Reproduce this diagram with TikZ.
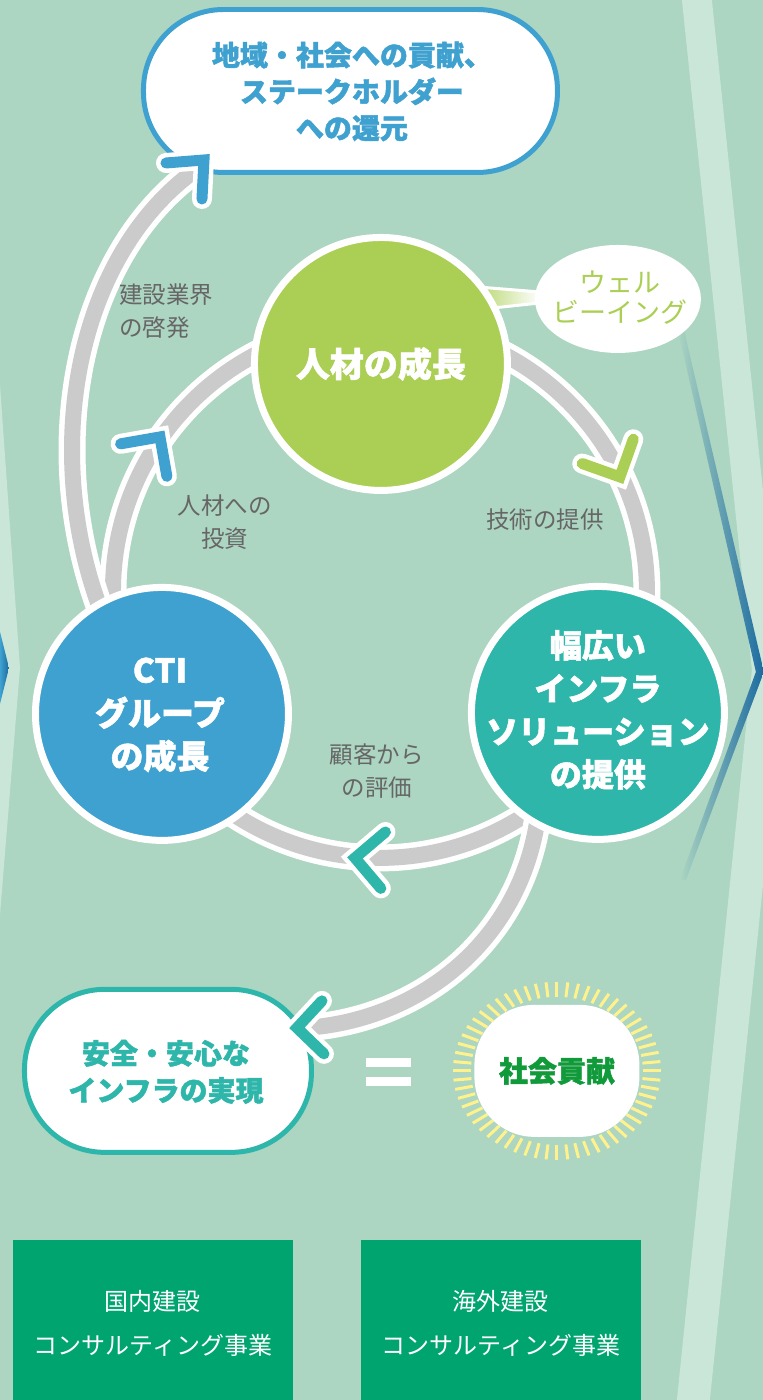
\documentclass[tikz,border=0pt]{standalone}
\usepackage{fontspec}
\newfontfamily\jp{Noto Sans CJK JP}[BoldFeatures={FakeBold=1.6}]
\usetikzlibrary{shapes.geometric,calc}
\definecolor{bg}{HTML}{ACD5C2}
\definecolor{band}{HTML}{C9E6D9}
\definecolor{ctiblue}{HTML}{3FA1CF}
\definecolor{hrgreen}{HTML}{AACF54}
\definecolor{teal}{HTML}{2EB6AA}
\definecolor{ringgray}{HTML}{CBCBCB}
\definecolor{labelgray}{HTML}{666666}
\definecolor{boxgreen}{HTML}{00A46F}
\definecolor{suntxt}{HTML}{109A3A}
\definecolor{ray}{HTML}{FFF28C}
\definecolor{deepblue}{HTML}{1B6AA0}
\pgfdeclarelayer{back}
\pgfdeclarelayer{deco}
\pgfdeclarelayer{front}
\pgfsetlayers{deco,back,main,front}
\newcommand\mychev[4]{\draw[chevw] #1--#2--#3; \draw[chevc,#4] #1--#2--#3;}
\begin{document}
\begin{tikzpicture}[x=1pt,y=-1pt,
 wband/.style={white, line width=27},
 gband/.style={draw=ringgray, line width=16},
 bigcirc/.style={circle, draw=white, line width=7, minimum size=253, inner sep=0},
 chevw/.style={white, line width=20, line cap=round, line join=miter},
 chevc/.style={line width=11, line cap=round, line join=miter},
 lbl/.style={text=labelgray, font=\jp\fontsize{23.5}{33}\selectfont, align=center, inner sep=0},
 bigtxt/.style={text=white, font=\jp\bfseries\fontsize{33}{43}\selectfont, align=center, inner sep=0},
 gboxtxt/.style={text=white, font=\jp\fontsize{24}{44}\selectfont, align=center, inner sep=0},
 gbox/.style={rectangle, fill=boxgreen, minimum width=280, minimum height=160, anchor=north west, inner sep=0}
]
\begin{pgfonlayer}{deco}
\useasboundingbox (0,0) rectangle (763,1400);
\fill[bg] (0,0) rectangle (763,1400);
% decorative bands
\fill[band] (682,0) -- (712,0) -- (763,490) -- (763,886) -- (710,1400) -- (677,1400) -- (752,670) -- cycle;
\shade[left color=bg, right color=deepblue] (678,330) -- (684,330) -- (764,672) -- (756,672) -- cycle;
\shade[left color=bg, right color=deepblue] (756,672) -- (764,672) -- (686,880) -- (680,880) -- cycle;
\fill[band] (0,385) -- (20,668) -- (0,915) -- cycle;
\shade[left color=ctiblue, right color=deepblue] (0,632) -- (9,668) -- (0,704) -- cycle;
\end{pgfonlayer}

% nodes
\coordinate (ringc) at (380,591);
\node[bigcirc, fill=hrgreen] (hr) at (381,364) {};
\node[bigcirc, fill=ctiblue] (cti) at (162,714) {};
\node[bigcirc, fill=teal] (tc) at (598,713) {};
\node[rectangle, rounded corners=80, draw=ctiblue, line width=5, fill=white, minimum width=414, minimum height=163, inner sep=0] (top) at (350.5,91) {};
\node[rectangle, rounded corners=80, draw=teal, line width=5, fill=white, minimum width=287, minimum height=163, inner sep=0] (safe) at (168,1071) {};
\node[ellipse, fill=white, minimum width=166, minimum height=108, inner sep=0] (wb) at (618,299) {};
\node[rectangle, rounded corners=60, fill=white, minimum width=165, minimum height=132, inner sep=0] (sun) at (557,1071) {};
\node[gbox] (dom) at (13,1240) {};
\node[gbox] (ovs) at (361,1240) {};

% connectors behind the nodes
\coordinate (a2) at (197,169);
\coordinate (b2) at (306,1028);
\begin{pgfonlayer}{back}
\draw[wband] (ringc) circle[radius=267];
\draw[gband] (ringc) circle[radius=267];
\draw[wband, shorten <=-20pt] (cti.120) .. controls (40,460) and (72,258) .. (a2);
\draw[gband, shorten <=-20pt] (cti.120) .. controls (40,460) and (72,258) .. (a2);
\draw[wband, shorten <=-20pt] (tc.242) .. controls (525,940) and (420,1020) .. (b2);
\draw[gband, shorten <=-20pt] (tc.242) .. controls (525,940) and (420,1020) .. (b2);
% well-being link
\shade[left color=hrgreen, right color=white] (465,286) -- (540,292) -- (540,303) -- (465,311) -- cycle;
\draw[white, line width=3] (465,286) -- (540,292);
\draw[white, line width=3] (465,311) -- (540,303);
% sun rays
\foreach \a in {0,6,...,354}
  \draw[ray, line width=3] ($(sun.center)+({86*cos(\a)},{74*sin(\a)})$) -- ($(sun.center)+({104*cos(\a)},{89*sin(\a)})$);
\end{pgfonlayer}

% chevrons
\begin{pgfonlayer}{front}
\mychev{(120.6,443.9)}{(160,437)}{(166.9,476.4)}{ctiblue}
\mychev{(582.3,463.6)}{(620,477)}{(633.4,439.3)}{hrgreen}
\mychev{(385.5,832.1)}{(355,858)}{(380.9,888.5)}{teal}
\mychev{(166,163)}{(204,160)}{(202,199)}{ctiblue}
\mychev{(322,1001)}{(297,1028)}{(324,1054)}{teal}
\end{pgfonlayer}

% equal sign
\fill[white] (366,1058) rectangle (411,1067);
\fill[white] (366,1077) rectangle (411,1086);

% texts
\node[text=ctiblue, font=\jp\bfseries\fontsize{28}{36.5}\selectfont, align=center, inner sep=0] (toptxt) at (352,91.5) {地域・社会への貢献、\\ステークホルダー\\への還元};
\node[bigtxt, font=\jp\bfseries\fontsize{34}{43}\selectfont] (hrtxt) at (hr) {人材の成長};
\node[bigtxt] (ctitxt) at (160,715) {CTI\\グループ\\の成長};
\node[bigtxt, font=\jp\bfseries\fontsize{32}{43}\selectfont] (tctxt) at (598,710) {幅広い\\インフラ\\ソリューション\\の提供};
\node[text=hrgreen, font=\jp\fontsize{27}{30}\selectfont, align=center, inner sep=0] (wbtxt) at (620,298) {ウェル\\ビーイング};
\node[text=teal, font=\jp\bfseries\fontsize{28}{37}\selectfont, align=center, inner sep=0] (safetxt) at (166,1072) {安全・安心な\\インフラの実現};
\node[text=suntxt, font=\jp\bfseries\fontsize{29}{35}\selectfont, inner sep=0] (suntext) at (557,1071) {社会貢献};
\node[lbl, align=left, anchor=west] (l1) at (119,311) {建設業界\\の啓発};
\node[lbl] (l2) at (225,522) {人材への\\投資};
\node[lbl] (l3) at (545,520) {技術の提供};
\node[lbl] (l4) at (377,771) {顧客から\\の評価};
\node[gboxtxt] (domtxt) at (153,1324) {国内建設\\コンサルティング事業};
\node[gboxtxt] (ovstxt) at (501,1324) {海外建設\\コンサルティング事業};
\end{tikzpicture}
\end{document}
